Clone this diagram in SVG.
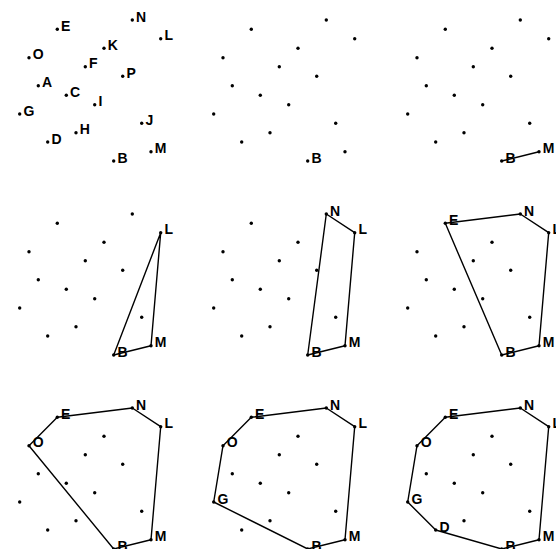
<svg xmlns="http://www.w3.org/2000/svg" xmlns:xlink="http://www.w3.org/1999/xlink" width="556" height="549" viewBox="0 0 556 549">
<style>
.d{fill:#000}
.t{font-family:"Liberation Sans",Arial,sans-serif;font-weight:bold;font-size:14px;fill:#000}
.h{fill:none;stroke:#000;stroke-width:1.4;stroke-linejoin:round}
</style>
<defs>
<g id="pts">
<circle class="d" cx="57.3" cy="29.3" r="1.7"/>
<circle class="d" cx="132.3" cy="20" r="1.7"/>
<circle class="d" cx="160.7" cy="38.7" r="1.7"/>
<circle class="d" cx="104" cy="48.3" r="1.7"/>
<circle class="d" cx="29" cy="57.7" r="1.7"/>
<circle class="d" cx="85.3" cy="66.7" r="1.7"/>
<circle class="d" cx="122.7" cy="76.3" r="1.7"/>
<circle class="d" cx="38.3" cy="85.7" r="1.7"/>
<circle class="d" cx="66.3" cy="95.3" r="1.7"/>
<circle class="d" cx="94.7" cy="104.7" r="1.7"/>
<circle class="d" cx="19.7" cy="114" r="1.7"/>
<circle class="d" cx="141.7" cy="123.3" r="1.7"/>
<circle class="d" cx="76" cy="132.7" r="1.7"/>
<circle class="d" cx="47.7" cy="142" r="1.7"/>
<circle class="d" cx="151" cy="151.7" r="1.7"/>
<circle class="d" cx="113.7" cy="161" r="1.7"/>
</g>
</defs>
<g id="connectors">
<polyline class="h" transform="translate(388,0)" points="113.7,161 151,151.7"/>
<polygon class="h" transform="translate(0,194)" points="113.7,161 151,151.7 160.7,38.7"/>
<polygon class="h" transform="translate(194,194)" points="113.7,161 151,151.7 160.7,38.7 132.3,20"/>
<polygon class="h" transform="translate(388,194)" points="113.7,161 151,151.7 160.7,38.7 132.3,20 57.3,29.3"/>
<polygon class="h" transform="translate(0,388)" points="113.7,161 151,151.7 160.7,38.7 132.3,20 57.3,29.3 29,57.7"/>
<polygon class="h" transform="translate(194,388)" points="113.7,161 151,151.7 160.7,38.7 132.3,20 57.3,29.3 29,57.7 19.7,114"/>
<polygon class="h" transform="translate(388,388)" points="113.7,161 151,151.7 160.7,38.7 132.3,20 57.3,29.3 29,57.7 19.7,114 47.7,142"/>
</g>
<g id="panel1">
<use xlink:href="#pts"/>
<text class="t" x="61" y="30.8">E</text>
<text class="t" x="136" y="21.5">N</text>
<text class="t" x="164.4" y="40.2">L</text>
<text class="t" x="107.7" y="49.8">K</text>
<text class="t" x="32.7" y="59.2">O</text>
<text class="t" x="89" y="68.2">F</text>
<text class="t" x="126.4" y="77.8">P</text>
<text class="t" x="42" y="87.2">A</text>
<text class="t" x="70" y="96.8">C</text>
<text class="t" x="98.4" y="106.2">I</text>
<text class="t" x="23.4" y="115.5">G</text>
<text class="t" x="145.4" y="124.8">J</text>
<text class="t" x="79.7" y="134.2">H</text>
<text class="t" x="51.4" y="143.5">D</text>
<text class="t" x="154.7" y="153.2">M</text>
<text class="t" x="117.4" y="162.5">B</text>
</g>
<g id="panel2" transform="translate(194,0)">
<use xlink:href="#pts"/>
<text class="t" x="117.4" y="162.5">B</text>
</g>
<g id="panel3" transform="translate(388,0)">
<use xlink:href="#pts"/>
<text class="t" x="117.4" y="162.5">B</text>
<text class="t" x="154.7" y="153.2">M</text>
</g>
<g id="panel4" transform="translate(0,194)">
<use xlink:href="#pts"/>
<text class="t" x="117.4" y="162.5">B</text>
<text class="t" x="154.7" y="153.2">M</text>
<text class="t" x="164.4" y="40.2">L</text>
</g>
<g id="panel5" transform="translate(194,194)">
<use xlink:href="#pts"/>
<text class="t" x="117.4" y="162.5">B</text>
<text class="t" x="154.7" y="153.2">M</text>
<text class="t" x="164.4" y="40.2">L</text>
<text class="t" x="136" y="21.5">N</text>
</g>
<g id="panel6" transform="translate(388,194)">
<use xlink:href="#pts"/>
<text class="t" x="117.4" y="162.5">B</text>
<text class="t" x="154.7" y="153.2">M</text>
<text class="t" x="164.4" y="40.2">L</text>
<text class="t" x="136" y="21.5">N</text>
<text class="t" x="61" y="30.8">E</text>
</g>
<g id="panel7" transform="translate(0,388)">
<use xlink:href="#pts"/>
<text class="t" x="117.4" y="162.5">B</text>
<text class="t" x="154.7" y="153.2">M</text>
<text class="t" x="164.4" y="40.2">L</text>
<text class="t" x="136" y="21.5">N</text>
<text class="t" x="61" y="30.8">E</text>
<text class="t" x="32.7" y="59.2">O</text>
</g>
<g id="panel8" transform="translate(194,388)">
<use xlink:href="#pts"/>
<text class="t" x="117.4" y="162.5">B</text>
<text class="t" x="154.7" y="153.2">M</text>
<text class="t" x="164.4" y="40.2">L</text>
<text class="t" x="136" y="21.5">N</text>
<text class="t" x="61" y="30.8">E</text>
<text class="t" x="32.7" y="59.2">O</text>
<text class="t" x="23.4" y="115.5">G</text>
</g>
<g id="panel9" transform="translate(388,388)">
<use xlink:href="#pts"/>
<text class="t" x="117.4" y="162.5">B</text>
<text class="t" x="154.7" y="153.2">M</text>
<text class="t" x="164.4" y="40.2">L</text>
<text class="t" x="136" y="21.5">N</text>
<text class="t" x="61" y="30.8">E</text>
<text class="t" x="32.7" y="59.2">O</text>
<text class="t" x="23.4" y="115.5">G</text>
<text class="t" x="51.4" y="143.5">D</text>
</g>
</svg>
